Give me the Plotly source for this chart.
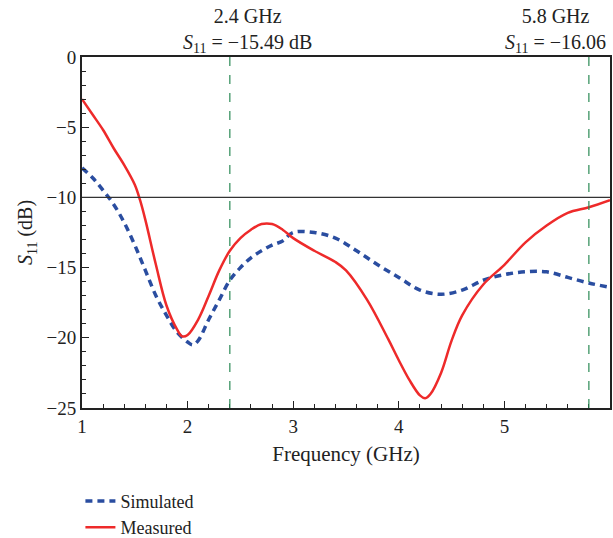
import plotly.graph_objects as go

freq_meas = [1.0, 1.1, 1.2, 1.3, 1.4, 1.5, 1.55, 1.6, 1.7, 1.8, 1.9, 1.95, 2.0, 2.1, 2.2, 2.3, 2.4, 2.5,
             2.6, 2.7, 2.8, 2.9, 3.0, 3.2, 3.4, 3.5, 3.7, 3.9, 4.0, 4.1, 4.2, 4.25, 4.3, 4.4, 4.5, 4.6,
             4.8, 5.0, 5.2, 5.4, 5.6, 5.8, 6.0]
s11_meas = [-3.0, -4.1, -5.2, -6.5, -7.7, -9.1, -10.2, -11.6, -14.8, -17.7, -19.4, -19.9, -19.8, -18.7,
            -17.0, -15.2, -13.8, -12.9, -12.3, -11.9, -11.9, -12.3, -12.9, -13.8, -14.6, -15.2, -17.3,
            -20.1, -21.6, -23.0, -24.1, -24.3, -24.0, -22.5, -20.2, -18.4, -16.2, -14.8, -13.2, -12.0,
            -11.1, -10.7, -10.2]

freq_sim = [1.0, 1.1, 1.2, 1.3, 1.4, 1.5, 1.6, 1.7, 1.8, 1.9, 2.0, 2.05, 2.1, 2.2, 2.3, 2.4, 2.5, 2.6,
            2.7, 2.8, 2.9, 3.0, 3.2, 3.4, 3.6, 3.8, 4.0, 4.2, 4.4, 4.6, 4.8, 5.0, 5.2, 5.4, 5.6, 5.8, 6.0]
s11_sim = [-7.9, -8.6, -9.5, -10.5, -11.8, -13.4, -15.2, -17.0, -18.4, -19.6, -20.3, -20.5, -20.2,
           -18.7, -17.3, -15.9, -15.0, -14.3, -13.8, -13.4, -13.1, -12.5, -12.5, -12.9, -13.8, -14.8,
           -15.7, -16.6, -16.9, -16.6, -15.9, -15.5, -15.3, -15.3, -15.7, -16.1, -16.4]

marker_freqs = [2.4, 5.8]
threshold_db = -10
x_ticks = [1, 2, 3, 4, 5, 6]
y_ticks = [0, -5, -10, -15, -20, -25]

FONT = "Liberation Serif"
TXT = "#222222"

fig = go.Figure()
fig.add_trace(go.Scatter(x=freq_sim, y=s11_sim, mode="lines", name="Simulated",
                         line=dict(color="#2a4da0", width=3.5, dash="7px,5px", shape="spline")))
fig.add_trace(go.Scatter(x=freq_meas, y=s11_meas, mode="lines", name="Measured",
                         line=dict(color="#ee2a2a", width=2.5, shape="spline")))

fig.add_shape(type="line", xref="x", yref="y", x0=1, x1=6, y0=threshold_db, y1=threshold_db,
              line=dict(color="#333333", width=1.2))
for f in marker_freqs:
    fig.add_shape(type="line", xref="x", yref="y", x0=f, x1=f, y0=-25, y1=0,
                  line=dict(color="#2a8a55", width=1.2, dash="dash"))

fig.add_annotation(x=2.57, xref="x", y=1.0, yref="paper", yanchor="bottom", yshift=-1, showarrow=False,
                   text="2.4 GHz<br><i>S</i><sub>11</sub> = −15.49 dB", align="center",
                   font=dict(family=FONT, size=20, color=TXT))
fig.add_annotation(x=5.48, xref="x", y=1.0, yref="paper", yanchor="bottom", yshift=-1, showarrow=False,
                   text="5.8 GHz<br><i>S</i><sub>11</sub> = −16.06", align="center",
                   font=dict(family=FONT, size=20, color=TXT))

axis_common = dict(showline=True, linecolor=TXT, linewidth=2, mirror=True, showgrid=False,
                   zeroline=False, ticks="inside", ticklen=7, tickcolor=TXT, automargin=False,
                   tickfont=dict(family=FONT, size=19, color=TXT))
fig.update_xaxes(range=[1, 6], tickvals=x_ticks,
                 minor=dict(ticks="inside", dtick=0.2, ticklen=4, tickcolor=TXT),
                 title=dict(text="Frequency (GHz)", font=dict(family=FONT, size=21, color=TXT),
                            standoff=11),
                 **axis_common)
fig.update_yaxes(range=[-25, 0], tickvals=y_ticks,
                 minor=dict(ticks="inside", dtick=1, ticklen=4, tickcolor=TXT),
                 title=dict(text="<i>S</i><sub>11</sub> (dB)", font=dict(family=FONT, size=20, color=TXT),
                            standoff=8),
                 **axis_common)

fig.update_layout(width=613, height=538, margin=dict(l=82, r=3, t=57, b=130, autoexpand=False),
                  plot_bgcolor="white", paper_bgcolor="white",
                  legend=dict(x=-0.003, xanchor="left", y=-0.213, yanchor="top", traceorder="normal",
                              font=dict(family=FONT, size=18, color=TXT),
                              bgcolor="rgba(0,0,0,0)", tracegroupgap=0, itemwidth=30),
                  showlegend=True)

fig.write_html("out.html", config={"displayModeBar": False},
               post_script="document.body.style.margin='0';document.body.style.overflow='hidden';")
